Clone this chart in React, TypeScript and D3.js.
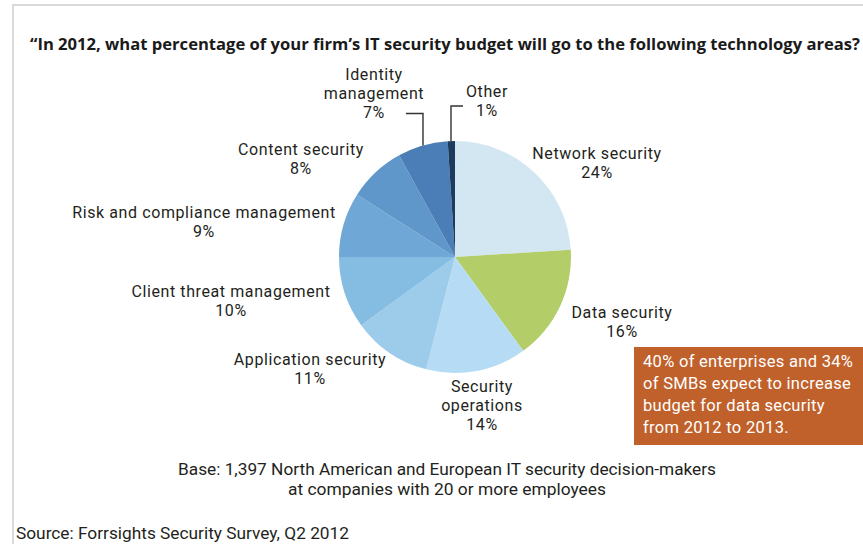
import React from "react";
import * as d3 from "d3";

const categories = [
  "Network security",
  "Data security",
  "Security operations",
  "Application security",
  "Client threat management",
  "Risk and compliance management",
  "Content security",
  "Identity management",
  "Other",
];
const values = [24, 16, 14, 11, 10, 9, 8, 7, 1];
const colors = [
  "#d3e7f3",
  "#b3cd69",
  "#b6dcf5",
  "#9dcbea",
  "#85bce2",
  "#6fa7d6",
  "#5f97cb",
  "#4b7db6",
  "#1d3a5f",
];
const labelLines = [
  ["Network security", "24%"],
  ["Data security", "16%"],
  ["Security", "operations", "14%"],
  ["Application security", "11%"],
  ["Client threat management", "10%"],
  ["Risk and compliance management", "9%"],
  ["Content security", "8%"],
  ["Identity", "management", "7%"],
  ["Other", "1%"],
];
const labelAnchors: [number, number][] = [
  [597, 155],
  [622, 314],
  [482, 388],
  [310, 361],
  [231, 293],
  [204, 214],
  [301, 151],
  [374, 76],
  [487, 93],
];
const title =
  "\u201cIn 2012, what percentage of your firm\u2019s IT security budget will go to the following technology areas?";
const noteLines = [
  "40% of enterprises and 34%",
  "of SMBs expect to increase",
  "budget for data security",
  "from 2012 to 2013.",
];
const baseLines = [
  "Base: 1,397 North American and European IT security decision-makers",
  "at companies with 20 or more employees",
];
const baseWidths = [538, 318];
const source = "Source: Forrsights Security Survey, Q2 2012";

export default function App() {
  const W = 863;
  const H = 544;
  const cx = 455;
  const cy = 257;
  const r = 116;
  const pie = d3
    .pie<number>()
    .sort(null)
    .value((d) => d)
    .startAngle(0)
    .endAngle(2 * Math.PI);
  const arcs = pie(values);
  const arc = d3.arc<d3.PieArcDatum<number>>().innerRadius(0).outerRadius(r);
  const font = "Roboto, 'Open Sans', sans-serif";
  const lh = 19;

  const leader = (x: number, yTop: number, xEnd: number) => {
    const dx = x - cx;
    const yEdge = cy - Math.sqrt(r * r - dx * dx);
    return `M${xEnd},${yTop} L${x},${yTop} L${x},${yEdge}`;
  };

  return (
    <svg
      width={W}
      height={H}
      style={{ position: "absolute", left: 0, top: 0, background: "#fff" }}
    >
      <rect x={0} y={0} width={W} height={H} fill="#fff" />
      <path d={`M13,${H} L13,5 L${W},5`} fill="none" stroke="#d9d9d9" strokeWidth={2} />
      <text
        x={30}
        y={50}
        fontFamily="'Open Sans', sans-serif"
        fontWeight="bold"
        fontSize={16}
        fill="#1a1a1a"
        textLength={830}
        lengthAdjust="spacingAndGlyphs"
      >
        {title}
      </text>
      <g transform={`translate(${cx},${cy})`}>
        {arcs.map((a, i) => (
          <path key={categories[i]} d={arc(a) || ""} fill={colors[i]} />
        ))}
      </g>
      <path d={leader(423, 113.5, 406)} fill="none" stroke="#333" strokeWidth={1.4} />
      <path d={leader(451, 106, 463)} fill="none" stroke="#333" strokeWidth={1.4} />
      {labelLines.map((lines, i) =>
        lines.map((l, j) => (
          <text
            key={`${i}-${j}`}
            x={labelAnchors[i][0]}
            y={labelAnchors[i][1] + j * lh}
            textAnchor="middle"
            fontFamily={font}
            fontSize={16}
            letterSpacing={0.6}
            fill="#231f20"
            dominantBaseline="middle"
          >
            {l}
          </text>
        ))
      )}
      <rect x={634} y={347} width={W - 634} height={98} fill="#c0612c" />
      {noteLines.map((l, j) => (
        <text
          key={j}
          x={643}
          y={363 + j * 22}
          fontFamily={font}
          fontSize={16.5}
          letterSpacing={0.3}
          fill="#fff"
          dominantBaseline="middle"
        >
          {l}
        </text>
      ))}
      {baseLines.map((l, j) => (
        <text
          key={j}
          x={447}
          y={471 + j * 20}
          fontFamily={font}
          fontSize={16}
          fill="#231f20"
          textAnchor="middle"
          dominantBaseline="middle"
          textLength={baseWidths[j]}
          lengthAdjust="spacingAndGlyphs"
        >
          {l}
        </text>
      ))}
      <text
        x={16}
        y={539}
        fontFamily={font}
        fontSize={16}
        fill="#231f20"
        textLength={333}
        lengthAdjust="spacingAndGlyphs"
      >
        {source}
      </text>
    </svg>
  );
}
